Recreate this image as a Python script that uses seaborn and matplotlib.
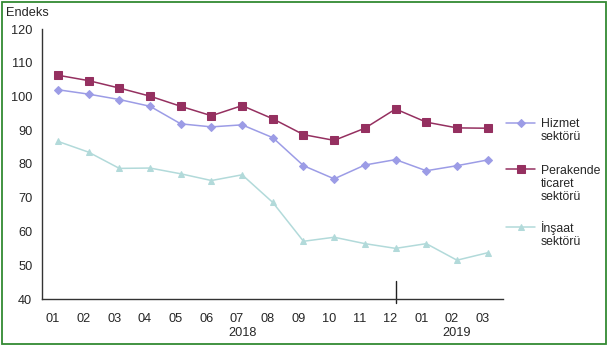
import numpy as np
import pandas as pd
import matplotlib
matplotlib.use("Agg")
import matplotlib.pyplot as plt
import matplotlib.transforms as mtransforms
from matplotlib.legend_handler import HandlerLine2D
from matplotlib.patches import Rectangle
import seaborn as sns

# Monthly index values, 2018-01 .. 2019-03
months = ["01", "02", "03", "04", "05", "06", "07", "08", "09", "10", "11", "12",
          "01", "02", "03"]
years = ["2018", "2019"]
year_label_month = [6, 13]   # category under which each year label sits
year_break = 11              # December 2018, where the year boundary tick is drawn

series_names = ["Hizmet\nsektörü", "Perakende\nticaret\nsektörü", "İnşaat\nsektörü"]
hizmet = [102.0, 100.7, 99.1, 97.1, 91.9, 91.0, 91.6, 87.8, 79.5, 75.6, 79.7, 81.3,
          78.0, 79.5, 81.2]
perakende = [106.3, 104.7, 102.5, 100.1, 97.1, 94.3, 97.3, 93.4, 88.7, 87.0, 90.6,
             96.3, 92.4, 90.7, 90.6]
insaat = [86.7, 83.5, 78.7, 78.8, 77.1, 75.1, 76.8, 68.6, 57.1, 58.3, 56.4, 55.0,
          56.4, 51.5, 53.7]

colors = ["#9c9ce6", "#953060", "#b2dada"]
markers = ["D", "s", "^"]
marker_sizes = [4.2, 6.0, 5.0]

pos = np.arange(len(months))
df = pd.concat([
    pd.DataFrame({"pos": pos, "value": vals, "series": name})
    for name, vals in zip(series_names, [hizmet, perakende, insaat])
], ignore_index=True)

sns.set_theme(style="white")
plt.rcParams["font.family"] = ["Liberation Sans", "DejaVu Sans"]
text_color = "#262626"

fig = plt.figure(figsize=(6.09, 3.47), dpi=100)
ax = fig.add_axes([42 / 609, 1 - 299 / 347, (503 - 42) / 609, (299 - 29) / 347])

handles = []
for name, c, m, ms in zip(series_names, colors, markers, marker_sizes):
    sub = df[df["series"] == name]
    sns.lineplot(data=sub, x="pos", y="value", ax=ax, color=c, marker=m,
                 markersize=ms, markeredgecolor=c, linewidth=1.1, legend=False,
                 zorder=3 if name.startswith("Perakende") else 2)
    handles.append(ax.lines[-1])

ax.set_xlim(-0.52, len(months) - 0.5)
ax.set_ylim(40, 120)
ax.set_yticks(np.arange(40, 121, 10))
ax.set_xticks(pos)
ax.set_xticklabels(months)
ax.set_xlabel("")
ax.set_ylabel("")

for side in ["top", "right"]:
    ax.spines[side].set_visible(False)
for side in ["left", "bottom"]:
    ax.spines[side].set_color("#333333")
    ax.spines[side].set_linewidth(1.0)

ax.tick_params(axis="both", which="both", direction="out", length=4, width=1.0,
               color="#333333", labelsize=9.2, labelcolor=text_color)
ax.tick_params(axis="x", pad=6)
ax.tick_params(axis="y", pad=3)

# nudge month labels slightly left of their ticks
shift = mtransforms.ScaledTranslation(-5 / 100, 0, fig.dpi_scale_trans)
for lbl in ax.get_xticklabels():
    lbl.set_transform(lbl.get_transform() + shift)

# year boundary tick
ax.axvline(year_break, ymin=-0.015, ymax=0.068, color="#222222", linewidth=1.0,
           clip_on=False)

# year labels below the month labels
for yr, idx in zip(years, year_label_month):
    ax.text(idx, -0.127, yr, transform=ax.get_xaxis_transform(), ha="center",
            va="center", fontsize=9.2, color=text_color)

fig.text(6 / 609, 1 - 13 / 347, "Endeks", ha="left", va="center", fontsize=9.2,
         color=text_color)


class FirstLineHandler(HandlerLine2D):
    """Places the legend marker beside the first line of a multi-line label."""

    def __init__(self, lines, **kw):
        super().__init__(**kw)
        self.lines = lines

    def create_artists(self, legend, orig_handle, xdescent, ydescent, width,
                       height, fontsize, trans):
        lift = (self.lines - 1) * 0.5 * 1.26 * fontsize
        return super().create_artists(legend, orig_handle, xdescent,
                                      ydescent - 2 * lift, width, height,
                                      fontsize, trans)


# one legend block per series, each anchored at its first text line
entry_tops = [118, 165, 221]
for h, name, top in zip(handles, series_names, entry_tops):
    leg = fig.legend([h], [name],
                     handler_map={h: FirstLineHandler(name.count("\n") + 1)},
                     loc="upper left", bbox_to_anchor=(506 / 609, 1 - top / 347),
                     frameon=False, fontsize=8.8, handlelength=2.4,
                     handletextpad=0.45, borderaxespad=0, borderpad=0)
    for t in leg.get_texts():
        t.set_color(text_color)
        t.set_linespacing(1.12)

# thin green frame around the whole figure
fig.patches.append(Rectangle((1.5 / 609, 3.5 / 347), 604 / 609, 342 / 347,
                             transform=fig.transFigure, fill=False,
                             edgecolor="#338a33", linewidth=1.3))

fig.savefig("out.png", dpi=100)
